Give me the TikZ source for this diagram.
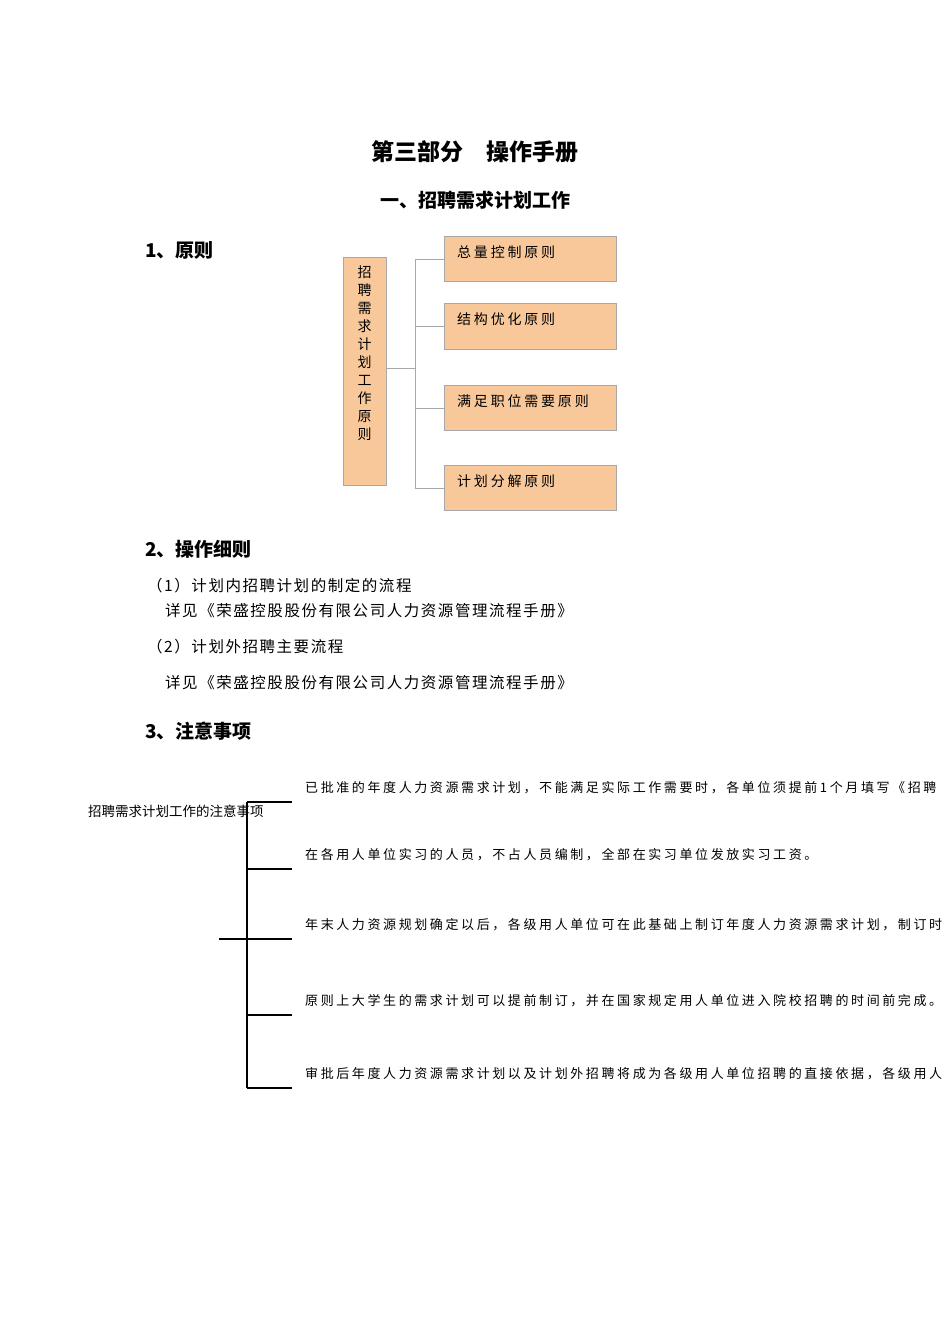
\documentclass[tikz,border=0pt]{standalone}
\usepackage{fontspec}
\setmainfont{Noto Sans CJK SC}
\newfontfamily\cjkB[BoldFont={* Bold}]{Noto Sans CJK SC}
\newfontfamily\cjkS[LetterSpace=20]{Noto Sans CJK SC}
\newfontfamily\cjkM[LetterSpace=10]{Noto Sans CJK SC}
\definecolor{boxfill}{HTML}{F9C89A}
\definecolor{boxline}{HTML}{A8A8A8}
\tikzset{
  pbox/.style={draw=boxline,fill=boxfill,line width=0.8pt},
  glink/.style={draw=boxline,line width=0.8pt},
  blink/.style={draw=black,line width=1.8pt},
  lbl/.style={anchor=west,inner sep=0pt},
  head/.style={anchor=west,inner sep=0pt,font=\fontsize{19}{19}\selectfont\bfseries},
}
\begin{document}
\begin{tikzpicture}[x=1pt,y=-1pt]
\useasboundingbox (0,0) rectangle (950,1344);
\clip (0,0) rectangle (950,1344);
\fill[white] (0,0) rectangle (950,1344);
\node[inner sep=0pt,font=\fontsize{23}{23}\selectfont\bfseries] (title) at (475,152) {第三部分\hspace{1em}操作手册};
\node[inner sep=0pt,font=\fontsize{19}{19}\selectfont\bfseries] (sub) at (475,200) {一、招聘需求计划工作};
\node[head] (h1) at (145,250) {1、原则};
\node[head] (h2) at (145,549) {2、操作细则};
\node[head] (h3) at (145,731) {3、注意事项};
\node[lbl,font=\fontsize{15.5}{15.5}\cjkM] (p1) at (147,586) {（1）计划内招聘计划的制定的流程};
\node[lbl,font=\fontsize{15.5}{15.5}\cjkM] (p1b) at (165,611) {详见《荣盛控股股份有限公司人力资源管理流程手册》};
\node[lbl,font=\fontsize{15.5}{15.5}\cjkM] (p2) at (147,647) {（2）计划外招聘主要流程};
\node[lbl,font=\fontsize{15.5}{15.5}\cjkM] (p2b) at (165,683) {详见《荣盛控股股份有限公司人力资源管理流程手册》};
% principle diagram
\path[pbox] (343,257) rectangle (386,485);
\node[inner sep=0pt,font=\fontsize{14}{18}\selectfont,align=center,anchor=north] (lbox) at (364.5,266) {招\\聘\\需\\求\\计\\划\\工\\作\\原\\则};
\coordinate (lc) at (386,368);
\foreach \n/\ya/\yb/\t in {a/236/281/总量控制原则,b/303/349/结构优化原则,c/385/430/满足职位需要原则,d/465/510/计划分解原则}{
  \path[pbox] (444,\ya) rectangle (616,\yb);
  \coordinate (\n) at (444,{\ya+23});
  \node[lbl,font=\fontsize{14}{14}\cjkS] (t\n) at (457,{\ya+16}) {\t};
}
\coordinate (tr) at (415,368);
\draw[glink] (lc) -- (tr);
\draw[glink] (a-|tr) -- (d-|tr);
\foreach \n in {a,b,c,d} \draw[glink] (\n-|tr) -- (\n);
% notes bracket
\node[lbl,font=\fontsize{13.5}{13.5}\selectfont] (root) at (88,811) {招聘需求计划工作的注意事项};
\coordinate (stub) at (219,939);
\coordinate (v) at (247,939);
\draw[blink] (stub) -- (v);
\draw[blink] (247,802) -- (247,1088);
\foreach \y/\t in {
 802/已批准的年度人力资源需求计划，不能满足实际工作需要时，各单位须提前1个月填写《招聘,
 869/在各用人单位实习的人员，不占人员编制，全部在实习单位发放实习工资。,
 939/年末人力资源规划确定以后，各级用人单位可在此基础上制订年度人力资源需求计划，制订时,
 1015/原则上大学生的需求计划可以提前制订，并在国家规定用人单位进入院校招聘的时间前完成。,
 1088/审批后年度人力资源需求计划以及计划外招聘将成为各级用人单位招聘的直接依据，各级用人}{
  \draw[blink] (247,\y) -- (292,\y);
  \node[lbl,font=\fontsize{13}{13}\cjkS] at (305,{\y-14}) {\t};
}
\end{tikzpicture}
\end{document}
